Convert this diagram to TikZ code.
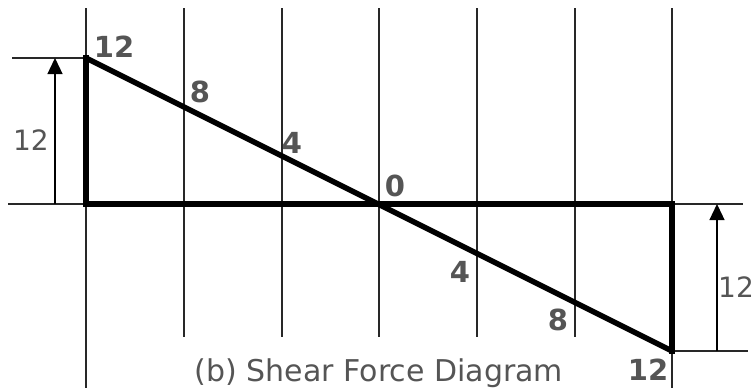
\documentclass[tikz,border=0pt]{standalone}
\usepackage{fontspec}
\setmainfont{DejaVu Sans}
\usetikzlibrary{arrows.meta}
\definecolor{txtgray}{RGB}{85,85,85}
\definecolor{linegray}{RGB}{40,40,40}

\begin{document}
\begin{tikzpicture}[x=1pt,y=-1pt,
  grid/.style={linegray,line width=1.3pt},
  sfd/.style={black,line width=5.5pt,line cap=rect},
  dim/.style={black,line width=1.3pt,-{Triangle[length=16pt,width=15pt]}},
  val/.style={txtgray,font=\fontsize{29}{32}\selectfont\bfseries,inner sep=0pt},
  lab/.style={txtgray,font=\fontsize{28}{32}\selectfont,inner sep=0pt}
]
\useasboundingbox (0,0) rectangle (755,388);
% section lines
\draw[grid] (86,8) -- (86,388);
\draw[grid] (672,8) -- (672,388);
\foreach \x in {184,282,379,477,575}
  \draw[grid] (\x,8) -- (\x,337);
% reference lines
\draw[grid] (12,58) -- (86,58);
\draw[grid] (8,204) -- (743,204);
\draw[grid] (672,351) -- (748,351);
% shear force diagram
\coordinate (A) at (86,58);
\coordinate (B) at (86,204);
\coordinate (C) at (672,204);
\coordinate (D) at (672,351);
\draw[sfd] (A) -- (B) -- (C) -- (D);
\draw[sfd,line cap=round] (A) -- (D);
% dimension arrows
\coordinate (l0) at (55,204);
\coordinate (l1) at (55,58);
\coordinate (r0) at (717,351);
\coordinate (r1) at (717,204);
\draw[dim] (l0) -- (l1);
\draw[dim] (r0) -- (r1);
\node[lab] (hl) at (31,140) {12};
\node[lab] (hr) at (736,287) {12};
% values
\node[val] (v12a) at (114,47) {12};
\node[val] (v8a)  at (200,92) {8};
\node[val] (v4a)  at (292,143) {4};
\node[val] (v0)   at (395,186) {0};
\node[val] (v4b)  at (460,272) {4};
\node[val] (v8b)  at (558,320) {8};
\node[val] (v12b) at (648,370) {12};
\node[lab,font=\fontsize{30}{34}\selectfont,anchor=base] (cap) at (379,381) {(b) Shear Force Diagram};
\end{tikzpicture}
\end{document}
